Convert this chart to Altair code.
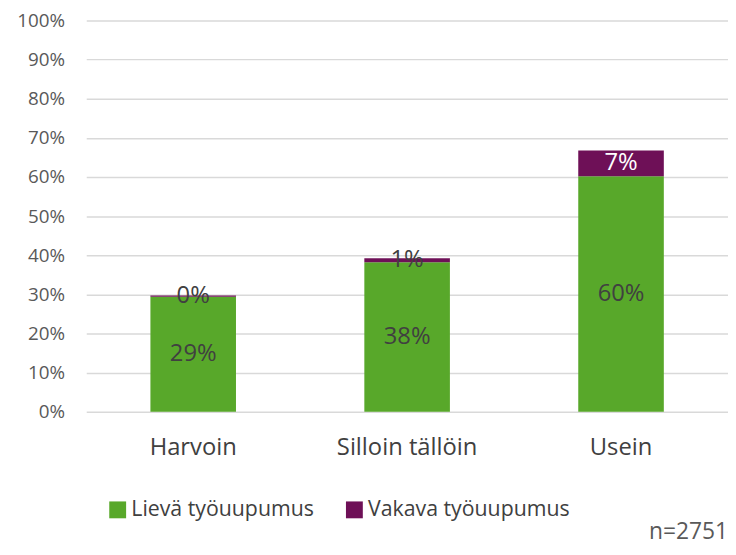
import altair as alt
import pandas as pd

categories = ["Harvoin", "Silloin tällöin", "Usein"]
series = ["Lievä työuupumus", "Vakava työuupumus"]
lieva = [29.4, 38.2, 60.2]
vakava = [0.3, 1.0, 6.6]
lieva_labels = ["29%", "38%", "60%"]
vakava_labels = ["0%", "1%", "7%"]
note = "n=2751"

rows = []
for i, c in enumerate(categories):
    rows.append({"cat": c, "series": series[0], "value": lieva[i], "label": lieva_labels[i], "ord": 0})
    rows.append({"cat": c, "series": series[1], "value": vakava[i], "label": vakava_labels[i], "ord": 1})
df = pd.DataFrame(rows)

FONT = "Open Sans"
W, H = 648, 395

base = alt.Chart(df).transform_stack(
    stack="value", groupby=["cat"], as_=["y0", "y1"], sort=[alt.SortField("ord", order="ascending")]
).transform_calculate(mid="(datum.y0 + datum.y1) / 2")

yscale = alt.Scale(domain=[0, 100])
xscale = alt.Scale(paddingInner=0.6, paddingOuter=0.3)
xaxis = alt.Axis(labelAngle=0, ticks=False, domain=False, labelFontSize=24,
                 labelColor="#404040", labelPadding=24, labelFont=FONT)
yaxis = alt.Axis(values=list(range(0, 101, 10)), labelExpr="datum.value + '%'",
                 ticks=False, domain=False, labelFontSize=19, labelColor="#595959",
                 labelPadding=22, gridColor="#d9d9d9", gridWidth=1.5, labelFont=FONT,
                 labelOverlap=False)

bars = base.mark_bar().encode(
    x=alt.X("cat:N", sort=categories, title=None, scale=xscale, axis=xaxis),
    y=alt.Y("y0:Q", scale=yscale, title=None, axis=yaxis),
    y2="y1:Q",
    color=alt.Color("series:N", scale=alt.Scale(domain=series, range=["#58a82a", "#6e1057"]),
                    legend=alt.Legend(title=None, orient="none", legendX=21, legendY=483,
                                      direction="horizontal", symbolType="square", symbolSize=290,
                                      symbolStrokeWidth=0, labelFontSize=21.5, labelColor="#404040",
                                      labelFont=FONT, columnPadding=30, symbolOffset=0,
                                      labelOffset=3, labelLimit=0)),
)

labels = base.mark_text(fontSize=24, font=FONT).encode(
    x=alt.X("cat:N", sort=categories, title=None, scale=xscale, axis=xaxis),
    y=alt.Y("mid:Q", scale=yscale, title=None, axis=yaxis),
    text="label:N",
    color=alt.condition("datum.ord == 1 && datum.value > 3", alt.value("white"), alt.value("#404040")),
)

note_text = alt.Chart(pd.DataFrame({"t": [note]})).mark_text(
    fontSize=23, font=FONT, align="right", baseline="bottom", color="#595959"
).encode(text="t:N", x=alt.value(W), y=alt.value(H + 134))

chart = alt.layer(bars, labels, note_text).properties(
    width=W, height=H, padding={"left": 79, "top": 10, "right": 0, "bottom": 134},
    autosize=alt.AutoSizeParams(type="none"),
).configure_view(stroke=None)

chart.save("out.html", embed_options={"renderer": "svg", "actions": False})
